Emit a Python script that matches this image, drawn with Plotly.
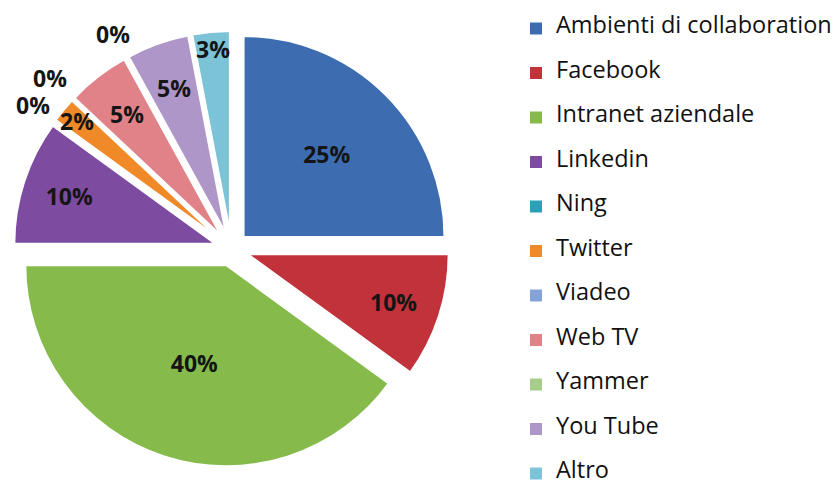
import math
import plotly.graph_objects as go

labels = ["Ambienti di collaboration", "Facebook", "Intranet aziendale", "Linkedin",
          "Ning", "Twitter", "Viadeo", "Web TV", "Yammer", "You Tube", "Altro"]
values = [25, 10, 40, 10, 0, 2, 0, 5, 0, 5, 3]
colors = ["#3E6CB1", "#C1323A", "#86BB4C", "#7D4BA0", "#2CA0B8", "#F08A28",
          "#84A2D8", "#E08287", "#A6CE8A", "#AE96C8", "#7CC3D8"]

W, H = 840, 488
LABEL_FONT = "Open Sans"
PULL = 0.085
DOM_X = [13.5 / W, 449.5 / W]
DOM_Y = [21 / H, 457 / H]

total = sum(values)
big = [v >= 10 for v in values]   # labels drawn by the pie itself

fig = go.Figure()
fig.add_trace(go.Pie(
    labels=labels, values=values, sort=False, direction="clockwise", rotation=0,
    marker=dict(colors=colors, line=dict(color="white", width=2)),
    pull=[PULL] * len(values),
    textinfo="percent", textposition=["inside" if b else "none" for b in big],
    insidetextorientation="horizontal",
    insidetextfont=dict(family=LABEL_FONT, size=23, color="#151515", weight="bold"),
    domain=dict(x=DOM_X, y=DOM_Y),
    showlegend=False, hoverinfo="label+percent",
))

# labels of the thin slices, placed along each slice's mid angle (as Excel's best fit),
# pushed outward when they would collide with a previous label
box_w = (DOM_X[1] - DOM_X[0]) * W
box_h = (DOM_Y[1] - DOM_Y[0]) * H
R = min(box_w, box_h) / 2 / (1 + PULL)
cx = (DOM_X[0] + DOM_X[1]) / 2 * W
cy = H - (DOM_Y[0] + DOM_Y[1]) / 2 * H
LW, LH = 36, 26
placed = []
cum = 0
for v, b in zip(values, big):
    mid = (cum + v / 2) / total * 2 * math.pi
    cum += v
    if b:
        continue
    f = 1.22 if v == 0 else (1.0 if v < 5 else 0.85)
    while True:
        px = cx + R * f * math.sin(mid)
        py = cy - R * f * math.cos(mid)
        if all(abs(px - qx) >= LW or abs(py - qy) >= LH for qx, qy in placed):
            break
        f += 0.01
    placed.append((px, py))
    fig.add_annotation(x=px / W, y=1 - py / H, xref="paper", yref="paper",
                       xanchor="center", yanchor="middle",
                       text=f"{round(v / total * 100)}%", showarrow=False,
                       font=dict(family=LABEL_FONT, size=23, color="#151515", weight="bold"))

# legend entries (one group each so the spacing can be set)
for lab, col in zip(labels, colors):
    fig.add_trace(go.Scatter(
        x=[None], y=[None], mode="markers", name=f'<span style="font-size:23.5px">{lab}</span>',
        marker=dict(symbol="square", size=12, color=col, line=dict(width=0)),
        legendgroup=lab, showlegend=True, hoverinfo="skip",
    ))

fig.update_layout(
    width=W, height=H, margin=dict(l=0, r=0, t=0, b=0, autoexpand=False),
    paper_bgcolor="white", plot_bgcolor="white",
    xaxis=dict(visible=False), yaxis=dict(visible=False),
    legend=dict(x=516 / W, xanchor="left", y=1 - 14 / H, yanchor="top",
                font=dict(family=LABEL_FONT, size=12, color="#111111"),
                tracegroupgap=25.5, traceorder="grouped", bgcolor="rgba(0,0,0,0)"),
)

fig.write_html("out.html")
